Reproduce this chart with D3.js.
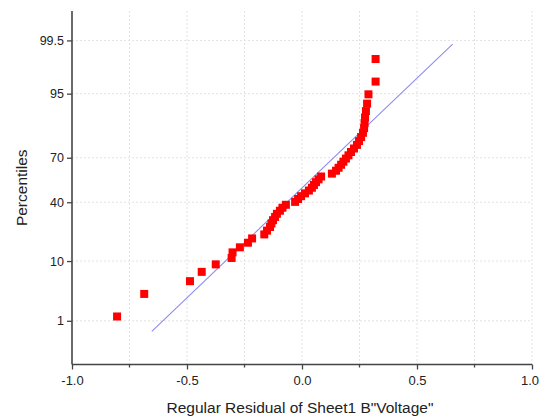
<!DOCTYPE html>
<html>
<head>
<meta charset="utf-8">
<script src="https://cdn.jsdelivr.net/npm/d3@7"></script>
<style>
  html, body { margin: 0; padding: 0; background: #fff; }
  svg { display: block; }
  text { font-family: "Liberation Sans", Arial, sans-serif; fill: #222; }
</style>
</head>
<body>
<svg id="chart" width="540" height="420"></svg>
<script>
// Regular residuals (x) and their plotted percentiles (y)
const residuals = [-0.804, -0.686, -0.487, -0.436, -0.375, -0.306, -0.302, -0.270, -0.235, -0.217,
  -0.164, -0.152, -0.139, -0.133, -0.126, -0.117, -0.109, -0.096, -0.085, -0.070,
  -0.030, -0.017, -0.004, 0.013, 0.030, 0.043, 0.052, 0.061, 0.072, 0.083,
  0.130, 0.148, 0.159, 0.170, 0.180, 0.191, 0.202, 0.213, 0.226, 0.239,
  0.248, 0.257, 0.265, 0.270, 0.272, 0.274, 0.278, 0.283, 0.289, 0.320, 0.320];
const percentiles = [1.22, 3.17, 5.12, 7.07, 9.02, 10.98, 12.93, 14.88, 16.83, 18.78,
  20.73, 22.68, 24.63, 26.59, 28.54, 30.49, 32.44, 34.39, 36.34, 38.29,
  40.24, 42.20, 44.15, 46.10, 48.05, 50.00, 51.95, 53.90, 55.85, 57.80,
  59.76, 61.71, 63.66, 65.61, 67.56, 69.51, 71.46, 73.41, 75.37, 77.32,
  79.27, 81.22, 83.17, 85.12, 87.07, 89.02, 90.98, 92.93, 94.88, 96.83, 98.78];
// reference line endpoints
const refLineX = [-0.653, 0.655];
const refLineP = [0.6, 99.4];
// axis ticks
const yTickValues = [1, 10, 40, 70, 95, 99.5];
const yTickLabels = ["1", "10", "40", "70", "95", "99.5"];
const xTickValues = [-1.0, -0.5, 0.0, 0.5, 1.0];
const xMinorTicks = [-0.75, -0.25, 0.25, 0.75];
const xGridValues = [-0.75, -0.5, -0.25, 0, 0.25, 0.5, 0.75, 1.0];
const xTitle = 'Regular Residual of Sheet1 B"Voltage"';
const yTitle = 'Percentiles';

// inverse normal CDF (Acklam)
function probit(p) {
  const a = [-3.969683028665376e+01, 2.209460984245205e+02, -2.759285104469687e+02, 1.383577518672690e+02, -3.066479806614716e+01, 2.506628277459239e+00];
  const b = [-5.447609879822406e+01, 1.615858368580409e+02, -1.556989798598866e+02, 6.680131188771972e+01, -1.328068155288572e+01];
  const c = [-7.784894002430293e-03, -3.223964580411365e-01, -2.400758277161838e+00, -2.549732539343734e+00, 4.374664141464968e+00, 2.938163982698783e+00];
  const d = [7.784695709041462e-03, 3.224671290700398e-01, 2.445134137142996e+00, 3.754408661907416e+00];
  const pl = 0.02425, ph = 1 - pl;
  let q, r;
  if (p < pl) {
    q = Math.sqrt(-2 * Math.log(p));
    return (((((c[0]*q+c[1])*q+c[2])*q+c[3])*q+c[4])*q+c[5]) / ((((d[0]*q+d[1])*q+d[2])*q+d[3])*q+1);
  } else if (p <= ph) {
    q = p - 0.5; r = q*q;
    return (((((a[0]*r+a[1])*r+a[2])*r+a[3])*r+a[4])*r+a[5])*q / (((((b[0]*r+b[1])*r+b[2])*r+b[3])*r+b[4])*r+1);
  } else {
    q = Math.sqrt(-2 * Math.log(1 - p));
    return -(((((c[0]*q+c[1])*q+c[2])*q+c[3])*q+c[4])*q+c[5]) / ((((d[0]*q+d[1])*q+d[2])*q+d[3])*q+1);
  }
}
const pz = pct => probit(pct / 100);

const svg = d3.select("#chart");
const L = 72, R = 532, T = 11, B = 364.5;

const x = d3.scaleLinear().domain([-1, 1]).range([L, R]);
const yz = d3.scaleLinear().domain([pz(0.1), pz(99.9)]).range([B, T]);
const y = pct => yz(pz(pct));

// grid
const grid = svg.append("g");
grid.selectAll("line.v").data(xGridValues).join("line")
  .attr("x1", d => x(d)).attr("x2", d => x(d)).attr("y1", T).attr("y2", B)
  .attr("stroke", "#e2e2e2").attr("stroke-width", 1).attr("stroke-dasharray", "2,2");
grid.selectAll("line.h").data(yTickValues).join("line")
  .attr("x1", L).attr("x2", R).attr("y1", d => y(d)).attr("y2", d => y(d))
  .attr("stroke", "#e2e2e2").attr("stroke-width", 1).attr("stroke-dasharray", "2,2");

// reference line
svg.append("line")
  .attr("x1", x(refLineX[0])).attr("y1", y(refLineP[0]))
  .attr("x2", x(refLineX[1])).attr("y2", y(refLineP[1]))
  .attr("stroke", "#8c8cf0").attr("stroke-width", 1.1);

// points
const s = 8;
svg.append("g").selectAll("rect").data(residuals.map((v, i) => [v, percentiles[i]])).join("rect")
  .attr("x", d => x(d[0]) - s/2).attr("y", d => y(d[1]) - s/2)
  .attr("width", s).attr("height", s).attr("fill", "#f00");

// axes
const xAxis = svg.append("g").attr("transform", `translate(0,${B})`)
  .call(d3.axisBottom(x).tickValues(xTickValues).tickFormat(d3.format(".1f")).tickSize(5).tickSizeOuter(0));
xAxis.selectAll(".tick text").attr("font-size", 13).attr("y", 10).attr("dy", "0.8em").attr("fill", "#222")
  .text(d => d3.format(".1f")(d).replace("−", "-"))
  .attr("dx", d => d === 1 ? -2.5 : 0);
xAxis.append("g").selectAll("line").data(xMinorTicks).join("line")
  .attr("x1", d => x(d)).attr("x2", d => x(d)).attr("y1", 0).attr("y2", 3)
  .attr("stroke", "#444").attr("stroke-width", 1.3);

const yAxis = svg.append("g").attr("transform", `translate(${L},0)`)
  .call(d3.axisLeft(yz).tickValues(yTickValues.map(pz)).tickFormat((d, i) => yTickLabels[i]).tickSize(5).tickSizeOuter(0));
yAxis.selectAll(".tick text").attr("font-size", 12.5).attr("fill", "#222").attr("x", -8);

svg.selectAll(".domain").attr("stroke", "#444").attr("stroke-width", 1.6);
svg.selectAll(".tick line").attr("stroke", "#444").attr("stroke-width", 1.3);
xAxis.select(".domain").attr("d", `M${L},0H${R}`);
yAxis.select(".domain").attr("d", `M0,${T}V${B}`);

// titles
svg.append("text").attr("x", 300).attr("y", 413).attr("text-anchor", "middle")
  .attr("font-size", 15.5).text(xTitle);
svg.append("text").attr("transform", `translate(27,${yz(0)}) rotate(-90)`).attr("text-anchor", "middle")
  .attr("font-size", 15.5).text(yTitle);
</script>
</body>
</html>
